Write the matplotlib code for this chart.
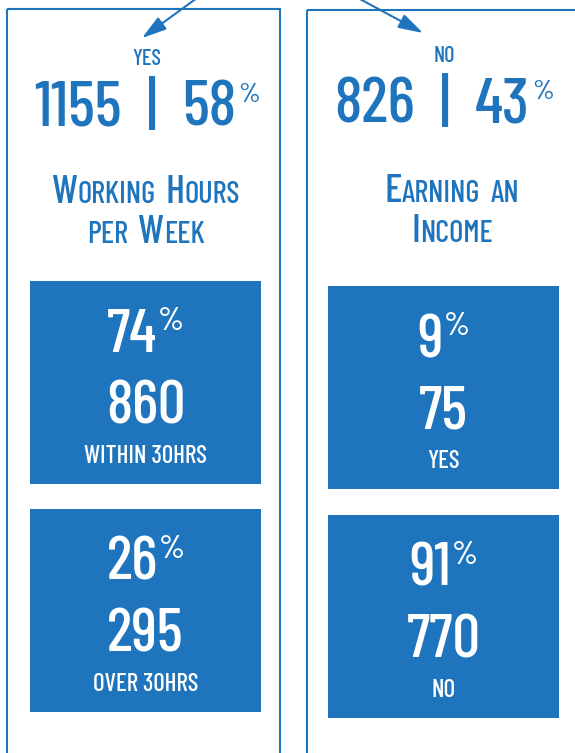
import matplotlib
matplotlib.use("Agg")
import matplotlib.pyplot as plt
from matplotlib.patches import Rectangle

BLUE = "#1f75bd"
FONT = ["Barlow Condensed", "DejaVu Sans"]

# data
groups = ["YES", "NO"]
group_counts = [1155, 826]
group_pcts = [58, 43]
panel_titles = [["Working Hours", "per Week"], ["Earning an", "Income"]]
hours_labels = ["WITHIN 30HRS", "OVER 30HRS"]
hours_counts = [860, 295]
hours_pcts = [74, 26]
income_labels = ["YES", "NO"]
income_counts = [75, 770]
income_pcts = [9, 91]

fig = plt.figure(figsize=(5.75, 7.53), dpi=100)
ax = fig.add_axes([0, 0, 1, 1])
ax.set_xlim(0, 575)
ax.set_ylim(753, 0)
ax.axis("off")
renderer = fig.canvas.get_renderer()


def rich_line(xc, y, pieces, color=BLUE, weight=500):
    # pieces: (text, size, rise_px); text None means a gap of `size` px
    items = []
    total = 0
    for txt, size, rise in pieces:
        if txt is None:
            items.append((None, size))
            total += size
            continue
        t = ax.text(0, y - rise, txt, fontsize=size, family=FONT, weight=weight,
                    color=color, ha="left", va="baseline")
        w = t.get_window_extent(renderer).width
        items.append((t, w))
        total += w
    x = xc - total / 2
    for t, w in items:
        if t is not None:
            t.set_x(x)
        x += w


def small_caps(s, big, small, gap):
    pieces = []
    for i, word in enumerate(s.split(" ")):
        if i:
            pieces.append((None, gap, 0))
        run, run_big = "", None
        for ch in word:
            is_big = ch.isupper()
            if run and is_big != run_big:
                pieces.append((run, big if run_big else small, 0))
                run = ""
            run += ch.upper()
            run_big = is_big
        pieces.append((run, big if run_big else small, 0))
    return pieces


# panel frames, open at the bottom
panels = [(7, 9, 273), (307, 10, 280)]
for x0, y0, w in panels:
    ax.add_patch(Rectangle((x0, y0), w, 800, fill=False, ec=BLUE, lw=1.5))

# arrows coming from above
arrow = dict(arrowstyle="-|>,head_length=1.0,head_width=0.3", color=BLUE, lw=1.5,
             mutation_scale=15, shrinkA=0, shrinkB=0)
ax.annotate("", xy=(142, 38), xytext=(197, -2), annotation_clip=False, arrowprops=arrow)
ax.annotate("", xy=(423, 33), xytext=(358, -2), annotation_clip=False, arrowprops=arrow)

# headers
head_x = [147, 444]
head_y = [(65, 125), (62, 122)]
for i, g in enumerate(groups):
    ly, ny = head_y[i]
    rich_line(head_x[i], ly, [(g, 16, 0)])
    rich_line(head_x[i], ny, [(f"{group_counts[i]}", 46, 0), (None, 25, 0), ("|", 46, 0),
                              (None, 25, 0), (f"{group_pcts[i]}", 46, 0), (None, 2, 0),
                              ("%", 20, 23)])

# titles in small caps
title_x = [146, 452]
title_y = [(203, 243), (202, 242)]
for i, lines in enumerate(panel_titles):
    for line, y in zip(lines, title_y[i]):
        rich_line(title_x[i], y, small_caps(line, 29, 22, 10))

# boxes
box_x = [30, 328]
box_tops = [[281, 509], [286, 515]]
box_w, box_h = 231, 203
box_data = [(hours_pcts, hours_counts, hours_labels), (income_pcts, income_counts, income_labels)]
for i, (pcts, counts, labels) in enumerate(box_data):
    for j in range(len(pcts)):
        top = box_tops[i][j]
        ax.add_patch(Rectangle((box_x[i], top), box_w, box_h, color=BLUE, lw=0))
        xc = box_x[i] + box_w / 2
        rich_line(xc, top + 71, [(f"{pcts[j]}", 44, 0), (None, 1, 0), ("%", 24, 22)],
                  color="white")
        rich_line(xc, top + 142, [(f"{counts[j]}", 44, 0)], color="white")
        rich_line(xc, top + 182, [(labels[j], 18, 0)], color="white")

fig.savefig("out.png", dpi=100)
